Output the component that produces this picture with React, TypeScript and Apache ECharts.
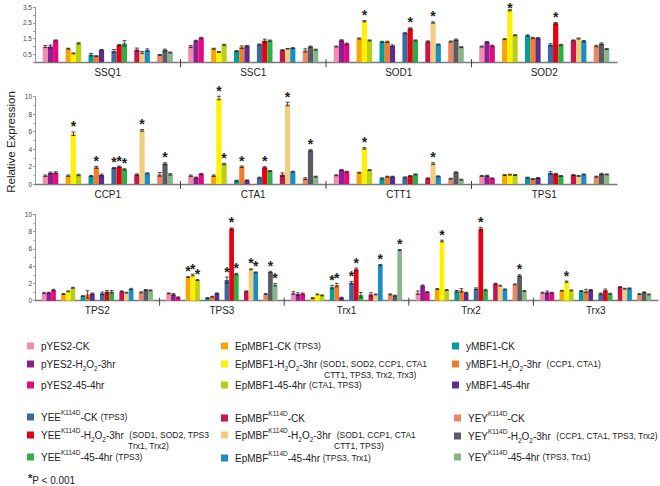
import React, { useEffect, useRef } from 'react';
import * as echarts from 'echarts';

const FONT = '"Liberation Sans", Arial, Helvetica, sans-serif';

const SERIES_NAMES = [
  'pYES2-CK', 'pYES2-H2O2-3hr', 'pYES2-45-4hr',
  'EpMBF1-CK', 'EpMBF1-H2O2-3hr', 'EpMBF1-45-4hr',
  'yMBF1-CK', 'yMBF1-H2O2-3hr', 'yMBF1-45-4hr',
  'YEE K114D-CK', 'YEE K114D-H2O2-3hr', 'YEE K114D-45-4hr',
  'EpMBF K114D-CK', 'EpMBF K114D-H2O2-3hr', 'EpMBF K114D-45-4hr',
  'YEY K114D-CK', 'YEY K114D-H2O2-3hr', 'YEY K114D-45-4hr',
];

const COLORS = [
  '#F08CAF', '#8E1F8E', '#E5097F',
  '#F7A600', '#FFF100', '#B8CF14',
  '#009D99', '#F07C2E', '#5C2D8C',
  '#3E6B9E', '#E60012', '#2EAF45',
  '#C9154E', '#F2CD7E', '#1A8DC4',
  '#E98664', '#5A5A62', '#88B589',
];

const PANEL1_GENES = ['SSQ1', 'SSC1', 'SOD1', 'SOD2'];
const PANEL2_GENES = ['CCP1', 'CTA1', 'CTT1', 'TPS1'];
const PANEL3_GENES = ['TPS2', 'TPS3', 'Trx1', 'Trx2', 'Trx3'];

const SSQ1 = [1.0, 1.0, 1.39, 0.86, 0.56, 1.2, 0.48, 0.39, 0.77, 0.71, 1.09, 1.2, 0.8, 0.62, 0.77, 0.46, 0.77, 0.62];
const SSC1 = [1.0, 1.37, 1.55, 0.86, 0.65, 1.11, 0.71, 0.96, 1.03, 1.13, 1.37, 1.37, 0.77, 0.86, 0.9, 0.75, 0.99, 0.8];
const SOD1 = [1.0, 1.39, 1.18, 1.51, 2.61, 1.39, 1.3, 1.3, 1.05, 1.85, 2.15, 1.39, 1.32, 2.53, 1.13, 1.32, 1.43, 0.96];
const SOD2 = [1.0, 1.28, 1.05, 1.47, 3.31, 1.72, 1.7, 1.55, 1.53, 1.11, 2.48, 1.11, 1.39, 1.51, 1.34, 1.03, 1.17, 0.84];
const CCP1 = [0.95, 1.26, 1.3, 0.95, 5.76, 1.03, 0.92, 1.9, 1.03, 1.83, 1.98, 1.68, 1.07, 6.14, 1.22, 1.1, 2.33, 1.1];
const CTA1 = [0.95, 0.73, 1.15, 0.95, 9.85, 2.29, 0.38, 1.98, 0.42, 0.73, 1.9, 1.49, 1.07, 9.16, 1.41, 0.61, 3.85, 0.84];
const CTT1 = [1.0, 1.6, 1.41, 1.3, 4.08, 1.6, 0.65, 0.84, 0.84, 0.76, 0.92, 1.1, 0.65, 2.33, 0.88, 0.61, 1.34, 0.5];
const TPS1 = [0.92, 0.95, 0.65, 1.03, 1.07, 1.03, 0.73, 0.57, 0.69, 1.26, 1.15, 0.92, 1.03, 0.92, 1.1, 0.84, 1.15, 1.1];
const TPS2 = [0.89, 0.93, 1.24, 0.77, 1.08, 1.5, 0.54, 0.73, 0.81, 0.85, 1.04, 1.04, 1.08, 0.93, 1.35, 0.97, 1.24, 1.2];
const TPS3 = [0.85, 0.73, 0.39, 2.74, 2.97, 2.39, 0.31, 0.46, 0.85, 2.39, 8.34, 3.09, 1.08, 3.63, 3.28, 0.77, 3.32, 1.85];
const TRX1 = [0.89, 0.77, 0.81, 0.31, 0.73, 0.62, 1.58, 1.81, 0.35, 2.08, 3.63, 0.66, 0.73, 0.73, 4.13, 0.73, 0.58, 5.87];
const TRX2 = [0.93, 1.74, 1.0, 1.35, 6.91, 1.24, 1.08, 1.2, 0.93, 1.39, 8.34, 1.24, 1.97, 1.74, 1.31, 1.89, 2.9, 1.12];
const TRX3 = [0.93, 0.97, 0.93, 1.16, 2.2, 1.2, 1.12, 1.12, 1.24, 0.81, 1.2, 0.81, 1.58, 1.39, 1.43, 0.77, 0.97, 0.73];

const SSQ1_ERR = [0.07, 0.09, 0.03, 0.03, 0.03, 0.04, 0.08, 0.03, 0.04, 0.1, 0.04, 0.17, 0.1, 0.06, 0.08, 0.03, 0.06, 0.03];
const SSC1_ERR = [0.06, 0.03, 0.04, 0.03, 0.03, 0.03, 0.03, 0.08, 0.04, 0.03, 0.1, 0.04, 0.03, 0.02, 0.03, 0.1, 0.04, 0.03];
const SOD1_ERR = [0.03, 0.04, 0.04, 0.03, 0.04, 0.03, 0.03, 0.04, 0.05, 0.03, 0.04, 0.03, 0.04, 0.04, 0.03, 0.03, 0.04, 0.03];
const SOD2_ERR = [0.03, 0.04, 0.04, 0.03, 0.04, 0.03, 0.04, 0.04, 0.04, 0.07, 0.05, 0.03, 0.03, 0.03, 0.04, 0.05, 0.06, 0.03];
const CCP1_ERR = [0.08, 0.1, 0.1, 0.08, 0.2, 0.08, 0.06, 0.1, 0.1, 0.06, 0.08, 0.06, 0.08, 0.1, 0.06, 0.2, 0.1, 0.08];
const CTA1_ERR = [0.08, 0.06, 0.06, 0.08, 0.2, 0.08, 0.05, 0.08, 0.05, 0.05, 0.08, 0.05, 0.2, 0.2, 0.05, 0.1, 0.08, 0.05];
const CTT1_ERR = [0.05, 0.05, 0.05, 0.05, 0.08, 0.05, 0.05, 0.05, 0.05, 0.05, 0.05, 0.05, 0.05, 0.1, 0.05, 0.05, 0.05, 0.05];
const TPS1_ERR = [0.05, 0.05, 0.05, 0.05, 0.05, 0.05, 0.05, 0.05, 0.05, 0.15, 0.08, 0.05, 0.05, 0.05, 0.05, 0.05, 0.08, 0.05];
const TPS2_ERR = [0.08, 0.05, 0.08, 0.05, 0.05, 0.05, 0.05, 0.42, 0.08, 0.15, 0.15, 0.15, 0.05, 0.05, 0.08, 0.05, 0.05, 0.05];
const TPS3_ERR = [0.05, 0.1, 0.05, 0.05, 0.1, 0.05, 0.05, 0.05, 0.05, 0.35, 0.08, 0.08, 0.05, 0.05, 0.05, 0.05, 0.08, 0.15];
const TRX1_ERR = [0.15, 0.15, 0.08, 0.05, 0.05, 0.05, 0.2, 0.2, 0.05, 0.15, 0.15, 0.3, 0.2, 0.05, 0.05, 0.05, 0.05, 0.05];
const TRX2_ERR = [0.2, 0.08, 0.05, 0.05, 0.1, 0.05, 0.1, 0.2, 0.05, 0.1, 0.15, 0.08, 0.05, 0.05, 0.05, 0.05, 0.1, 0.05];
const TRX3_ERR = [0.05, 0.15, 0.05, 0.05, 0.08, 0.05, 0.05, 0.2, 0.05, 0.08, 0.15, 0.05, 0.05, 0.05, 0.05, 0.05, 0.05, 0.05];

const SOD1_STARS = [4, 10, 13];
const SOD2_STARS = [4, 10];
const CCP1_STARS = [4, 7, 9, 10, 11, 13, 16];
const CTA1_STARS = [4, 5, 7, 10, 13, 16];
const CTT1_STARS = [4, 13];
const TPS3_STARS = [3, 4, 5, 9, 10, 11, 13, 14, 16, 17];
const TRX1_STARS = [6, 7, 9, 10, 14, 17];
const TRX2_STARS = [4, 10, 16];
const TRX3_STARS = [4];

const VALUES: Record<string, number[]> = {
  SSQ1, SSC1, SOD1, SOD2, CCP1, CTA1, CTT1, TPS1, TPS2, TPS3, Trx1: TRX1, Trx2: TRX2, Trx3: TRX3,
};
const ERRORS: Record<string, number[]> = {
  SSQ1: SSQ1_ERR, SSC1: SSC1_ERR, SOD1: SOD1_ERR, SOD2: SOD2_ERR, CCP1: CCP1_ERR, CTA1: CTA1_ERR,
  CTT1: CTT1_ERR, TPS1: TPS1_ERR, TPS2: TPS2_ERR, TPS3: TPS3_ERR, Trx1: TRX1_ERR, Trx2: TRX2_ERR, Trx3: TRX3_ERR,
};
const STARS: Record<string, number[]> = {
  SOD1: SOD1_STARS, SOD2: SOD2_STARS, CCP1: CCP1_STARS, CTA1: CTA1_STARS, CTT1: CTT1_STARS,
  TPS3: TPS3_STARS, Trx1: TRX1_STARS, Trx2: TRX2_STARS, Trx3: TRX3_STARS,
};

const PANEL1_Y = { min: 0, max: 3.5, interval: 0.5 };
const PANEL23_Y = { min: 0, max: 10, interval: 2 };

type Panel = {
  genes: string[];
  grid: { left: number; right: number; top: number; height: number };
  y: { min: number; max: number; interval: number };
  bw: number;
  gw: number;
  halfLabels: boolean;
};

const PANELS: Panel[] = [
  { genes: PANEL1_GENES, grid: { left: 35, right: 43, top: 7.3, height: 54.9 }, y: PANEL1_Y, bw: 5.2, gw: 7.3, halfLabels: true },
  { genes: PANEL2_GENES, grid: { left: 35, right: 43, top: 96.7, height: 87.3 }, y: PANEL23_Y, bw: 5.2, gw: 7.3, halfLabels: false },
  { genes: PANEL3_GENES, grid: { left: 35, right: 2, top: 214.3, height: 86.4 }, y: PANEL23_Y, bw: 4.7, gw: 5.3, halfLabels: false },
];

const RICH = {
  m: { fontSize: 10, fontFamily: FONT, fill: '#222', lineHeight: 16, verticalAlign: 'middle' },
  s: { fontSize: 6.5, fontFamily: FONT, fill: '#222', lineHeight: 9, verticalAlign: 'bottom' },
  u: { fontSize: 6.5, fontFamily: FONT, fill: '#222', lineHeight: 6, verticalAlign: 'top' },
  p: { fontSize: 8.5, fontFamily: FONT, fill: '#222', lineHeight: 16, verticalAlign: 'middle' },
  st: { fontSize: 11, fontFamily: FONT, fill: '#222', lineHeight: 8, verticalAlign: 'top', fontWeight: 'bold' },
};

// continues an open {m| token: "-H" sub2 "O" sub2 "-3hr" (left open)
const H2O2 = '-H}{s|2}{m|O}{s|2}{m|-3hr';
const LEGEND = [
  { s: 0, x: 27, y: 346, t: '{m|pYES2-CK}' },
  { s: 1, x: 27, y: 364, t: '{m|pYES2' + H2O2 + '}' },
  { s: 2, x: 27, y: 385, t: '{m|pYES2-45-4hr}' },
  { s: 3, x: 221, y: 346, t: '{m|EpMBF1-CK }{p|(TPS3)}' },
  { s: 4, x: 221, y: 364, t: '{m|EpMBF1' + H2O2 + ' }{p|(SOD1, SOD2, CCP1, CTA1}', t2: 'CTT1, TPS3, Trx2, Trx3)', x2: 324, y2: 375 },
  { s: 5, x: 221, y: 385, t: '{m|EpMBF1-45-4hr }{p|(CTA1, TPS3)}' },
  { s: 6, x: 452, y: 346, t: '{m|yMBF1-CK}' },
  { s: 7, x: 452, y: 364, t: '{m|yMBF1' + H2O2 + '  }{p|(CCP1, CTA1)}' },
  { s: 8, x: 452, y: 385, t: '{m|yMBF1-45-4hr}' },
  { s: 9, x: 27, y: 417, t: '{m|YEE}{u|K114D}{m|-CK }{p|(TPS3)}' },
  { s: 10, x: 27, y: 435, t: '{m|YEE}{u|K114D}{m|' + H2O2 + '  }{p|(SOD1, SOD2, TPS3}', t2: 'Trx1, Trx2)', x2: 128, y2: 446 },
  { s: 11, x: 27, y: 457, t: '{m|YEE}{u|K114D}{m|-45-4hr }{p|(TPS3)}' },
  { s: 12, x: 221, y: 418, t: '{m|EpMBF}{u|K114D}{m|-CK}' },
  { s: 13, x: 221, y: 435, t: '{m|EpMBF}{u|K114D}{m|' + H2O2 + '  }{p|(SOD1, CCP1, CTA1}', t2: 'CTT1, TPS3)', x2: 334, y2: 446 },
  { s: 14, x: 221, y: 458, t: '{m|EpMBF}{u|K114D}{m|-45-4hr }{p|(TPS3, Trx1)}' },
  { s: 15, x: 454, y: 418, t: '{m|YEY}{u|K114D}{m|-CK}' },
  { s: 16, x: 454, y: 436, t: '{m|YEY}{u|K114D}{m|' + H2O2 + '  }{p|(CCP1, CTA1, TPS3, Trx2)}' },
  { s: 17, x: 454, y: 457, t: '{m|YEY}{u|K114D}{m|-45-4hr }{p|(TPS3, Trx1)}' },
];

function buildOption() {
  const grid: any[] = [];
  const xAxis: any[] = [];
  const yAxis: any[] = [];
  const series: any[] = [];

  PANELS.forEach((p, pi) => {
    grid.push({ ...p.grid, containLabel: false });
    xAxis.push({
      type: 'category',
      gridIndex: pi,
      data: p.genes,
      boundaryGap: true,
      axisLine: { lineStyle: { color: '#7a7a7a', width: 1.3 } },
      axisTick: { show: false },
      axisLabel: { fontSize: 10, color: '#222', fontFamily: FONT, margin: 5 },
      splitLine: { show: false },
    });
    yAxis.push({
      type: 'value',
      gridIndex: pi,
      min: p.y.min,
      max: p.y.max,
      interval: p.y.interval,
      axisLine: { show: true, lineStyle: { color: '#999', width: 1 } },
      axisTick: { show: true, length: 2, lineStyle: { color: '#999' } },
      minorTick: { show: !p.halfLabels, splitNumber: 2, length: 1.5, lineStyle: { color: '#aaa' } },
      axisLabel: {
        fontSize: 6.5,
        color: '#444',
        fontFamily: FONT,
        margin: 3,
        formatter: (v: number) => {
          if (p.halfLabels) return Math.round(v * 10) % 10 === 5 ? v.toFixed(1) : '';
          return String(v);
        },
      },
      splitLine: { show: false },
    });

    for (let s = 0; s < 18; s++) {
      series.push({
        type: 'bar',
        name: SERIES_NAMES[s],
        xAxisIndex: pi,
        yAxisIndex: pi,
        barWidth: p.bw,
        barGap: '0%',
        silent: true,
        itemStyle: { color: COLORS[s] },
        data: p.genes.map((g) => VALUES[g][s]),
      });
      if (s % 3 === 2 && s < 17) {
        series.push({
          type: 'bar',
          name: 'gap',
          xAxisIndex: pi,
          yAxisIndex: pi,
          barWidth: p.gw,
          barGap: '0%',
          silent: true,
          data: p.genes.map(() => '-'),
        });
      }
    }

    const items: number[][] = [];
    p.genes.forEach((g, gi) => {
      const stars = STARS[g] || [];
      for (let s = 0; s < 18; s++) {
        items.push([gi, VALUES[g][s], ERRORS[g][s], s, stars.indexOf(s) >= 0 ? 1 : 0]);
      }
    });
    const bw = p.bw;
    const gw = p.gw;
    series.push({
      type: 'custom',
      name: 'err' + pi,
      xAxisIndex: pi,
      yAxisIndex: pi,
      z: 5,
      silent: true,
      clip: false,
      encode: { x: 0, y: 1 },
      data: items,
      renderItem: (params: any, api: any) => {
        const g = api.value(0);
        const v = api.value(1);
        const e = api.value(2);
        const s = api.value(3);
        const st = api.value(4);
        const c = api.coord([g, v]);
        const yTop = api.coord([g, v + e])[1];
        const yBot = api.coord([g, Math.max(0, v - e)])[1];
        const total = 18 * bw + 5 * gw;
        const x = c[0] - total / 2 + s * bw + Math.floor(s / 3) * gw + bw / 2;
        const cap = bw * 0.38;
        const ls = { stroke: '#1e1e1e', lineWidth: 0.8 };
        const children: any[] = [
          { type: 'line', shape: { x1: x, y1: yTop, x2: x, y2: yBot }, style: ls },
          { type: 'line', shape: { x1: x - cap, y1: yTop, x2: x + cap, y2: yTop }, style: ls },
          { type: 'line', shape: { x1: x - cap, y1: yBot, x2: x + cap, y2: yBot }, style: ls },
        ];
        if (st) {
          children.push({
            type: 'text',
            style: {
              text: '*',
              x: x,
              y: Math.max(yTop - 5.5, 7.5),
              align: 'center',
              verticalAlign: 'middle',
              font: `bold 14px ${FONT}`,
              fill: '#1e1e1e',
            },
          });
        }
        if (s === 0 && g > 0) {
          const base = api.coord([g, 0]);
          const bx = base[0] - api.size([1, 0])[0] / 2;
          children.push({
            type: 'line',
            shape: { x1: bx, y1: base[1] - 3, x2: bx, y2: base[1] + 5 },
            style: { stroke: '#444', lineWidth: 1 },
          });
        }
        return { type: 'group', children };
      },
    });
  });

  const graphic: any[] = [
    {
      type: 'text',
      x: 11,
      y: 142,
      rotation: Math.PI / 2,
      style: {
        text: 'Relative Expression',
        font: `11.5px ${FONT}`,
        fill: '#222',
        align: 'center',
        verticalAlign: 'middle',
      },
    },
  ];
  LEGEND.forEach((l) => {
    graphic.push({
      type: 'rect',
      shape: { x: l.x, y: l.y - 3.5, width: 7, height: 7 },
      style: { fill: COLORS[l.s] },
    });
    graphic.push({
      type: 'text',
      x: l.x + 14,
      y: l.y,
      style: { text: l.t, rich: RICH, align: 'left', verticalAlign: 'middle', font: `10px ${FONT}`, fill: '#222' },
    });
    if (l.t2) {
      graphic.push({
        type: 'text',
        x: l.x2,
        y: l.y2,
        style: { text: l.t2, font: `8.5px ${FONT}`, fill: '#222', align: 'left', verticalAlign: 'middle' },
      });
    }
  });
  graphic.push({
    type: 'text',
    x: 28,
    y: 480,
    style: { text: '{st|*}{m|P < 0.001}', rich: RICH, align: 'left', verticalAlign: 'middle', font: `10px ${FONT}`, fill: '#222' },
  });

  return {
    animation: false,
    backgroundColor: '#ffffff',
    grid,
    xAxis,
    yAxis,
    series,
    graphic,
  };
}

export default function App() {
  const ref = useRef<HTMLDivElement>(null);
  useEffect(() => {
    if (!ref.current) return;
    const chart = echarts.init(ref.current, undefined, { renderer: 'svg' });
    chart.setOption(buildOption() as any);
    return () => chart.dispose();
  }, []);
  return <div ref={ref} style={{ position: 'absolute', left: 0, top: 0, width: 660, height: 486 }} />;
}
